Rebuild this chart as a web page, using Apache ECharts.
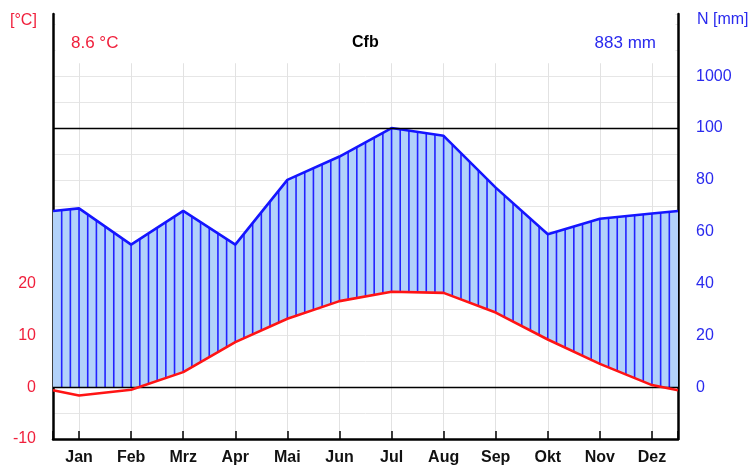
<!DOCTYPE html>
<html><head><meta charset="utf-8">
<script src="https://cdn.jsdelivr.net/npm/echarts@6/dist/echarts.min.js"></script>
<style>html,body{margin:0;padding:0;background:#fff}#c{width:753px;height:469px}</style>
</head><body><div id="c"></div>
<script>
const months = ['Jan','Feb','Mrz','Apr','Mai','Jun','Jul','Aug','Sep','Okt','Nov','Dez'];
const temperature = [-1.6,-0.5,2.9,8.7,13.2,16.6,18.4,18.2,14.4,9.2,4.5,0.4];
const precipitation = [69,55,68,55,80,89,100,97,77,59,65,67];
const tempTicks = [-10,0,10,20];
const precipTicks = [0,20,40,60,80,100,1000];
const meanTempLabel = '8.6 °C';
const totalPrecipLabel = '883 mm';
const climateClass = 'Cfb';

const FONT = 'Liberation Sans, Arial, sans-serif';
const RED = '#f0203c';
const BLUE = '#2a2aee';

// Walter-Lieth scale: 20 mm = 10 °C; above 100 mm compressed 1:10
function mmToAxis(mm){ return mm <= 100 ? mm/2 : 50 + (mm-100)/90; }
function axisToMm(v){ return v <= 50 ? v*2 : 100 + (v-50)*90; }

// positions: month centres 0..11, chart edges at -0.5 and 11.5 (Dec/Jan wrap)
const xs = [-0.5].concat(months.map((m,i)=>i)).concat([11.5]);
const tEdge = (temperature[0]+temperature[11])/2;
const pEdge = (precipitation[0]+precipitation[11])/2;
const tPts = [tEdge].concat(temperature).concat([tEdge]);
const pPts = [pEdge].concat(precipitation).concat([pEdge]).map(mmToAxis);
const segData = xs.slice(0,-1).map((x,i)=>[x, pPts[i], tPts[i]]);

function fillItem(params, api){
  const i = params.dataIndex;
  const x0=xs[i], x1=xs[i+1], p0=pPts[i], p1=pPts[i+1], t0=tPts[i], t1=tPts[i+1];
  const bottom = [[x0, Math.max(t0,0)]];
  if ((t0<0) !== (t1<0)) { const xc = x0 + (0-t0)/(t1-t0)*(x1-x0); bottom.push([xc,0]); }
  bottom.push([x1, Math.max(t1,0)]);
  const pts = [[x0,p0],[x1,p1]].concat(bottom.reverse()).map(p=>api.coord(p));
  return {type:'polygon', shape:{points:pts}, style:{fill:'#b2d2fa', stroke:'#b2d2fa', lineWidth:0.8}};
}
function hatchItem(params, api){
  const i = params.dataIndex;
  const x0=xs[i], x1=xs[i+1], p0=pPts[i], p1=pPts[i+1], t0=tPts[i], t1=tPts[i+1];
  const k0 = Math.round((x0+0.5)*6), k1 = Math.round((x1+0.5)*6);
  const children = [];
  for (let k=k0; k<k1; k++){
    if (k===0) continue;
    const x = -0.5 + k/6;
    const f = (x-x0)/(x1-x0);
    const p = p0 + f*(p1-p0);
    const t = Math.max(0, t0 + f*(t1-t0));
    const a = api.coord([x,p]), b = api.coord([x,t]);
    children.push({type:'line', shape:{x1:a[0],y1:a[1],x2:b[0],y2:b[1]}, style:{stroke:'#2323ff', lineWidth:1.6}});
  }
  return {type:'group', children};
}

const chart = echarts.init(document.getElementById('c'));
chart.setOption({
  animation:false,
  backgroundColor:'#fff',
  grid:{left:53, right:75, top:14, bottom:30, containLabel:false},
  xAxis:{
    type:'value', min:-0.5, max:11.5, splitNumber:12, minInterval:1, maxInterval:1,
    axisLine:{show:true, onZero:false, lineStyle:{color:'#000', width:2.5}},
    axisTick:{show:true, inside:true, length:8, lineStyle:{color:'#000', width:1.5}},
    axisLabel:{margin:11, color:'#111', fontFamily:FONT, fontWeight:'bold', fontSize:16,
      formatter:v=> (Number.isInteger(v) && v>=0 && v<12) ? months[v] : ''},
    splitLine:{show:true, lineStyle:{color:'#e2e2e2', width:1}}
  },
  yAxis:[{
    type:'value', min:-10, max:72, interval:5, position:'left',
    axisLine:{show:true, onZero:false, lineStyle:{color:'#000', width:2.5}},
    axisTick:{show:false},
    axisLabel:{margin:17, color:RED, fontFamily:FONT, fontSize:16,
      formatter:v=> tempTicks.indexOf(v)>=0 ? String(v) : ''},
    splitLine:{show:true, lineStyle:{color:'#e6e6e6', width:1}}
  },{
    type:'value', min:-10, max:72, interval:10, position:'right',
    axisLine:{show:true, onZero:false, lineStyle:{color:'#000', width:2.5}},
    axisTick:{show:false},
    axisLabel:{margin:18, color:BLUE, fontFamily:FONT, fontSize:16,
      formatter:v=>{ if (v<0) return ''; const mm=Math.round(axisToMm(v)); return precipTicks.indexOf(mm)>=0 ? String(mm) : ''; }},
    splitLine:{show:false}
  }],
  series:[
    {type:'custom', renderItem:fillItem, data:segData, encode:{x:0,y:1}, z:2, silent:true, clip:true},
    {type:'custom', renderItem:hatchItem, data:segData, encode:{x:0,y:1}, z:3, silent:true, clip:true},
    {type:'line', data:xs.map((x,i)=>[x,pPts[i]]), symbol:'none', z:4,
      lineStyle:{color:'#1515ff', width:2.6}, silent:true,
      markArea:{silent:true, itemStyle:{color:'#ffffff', opacity:1}, label:{show:false},
        data:[[{xAxis:-0.45, yAxis:62.5},{xAxis:11.45, yAxis:72}]]}},
    {type:'line', data:xs.map((x,i)=>[x,tPts[i]]), symbol:'none', z:5,
      lineStyle:{color:'#ff1414', width:2.6}, silent:true,
      markLine:{silent:true, symbol:'none', label:{show:false},
        lineStyle:{color:'#000', width:1.4, type:'solid'},
        data:[{yAxis:0},{yAxis:50}]}}
  ],
  graphic:[
    {type:'text', z:100, left:10, top:13, style:{text:'[°C]', fill:RED, font:'16px '+FONT}},
    {type:'text', z:100, left:697, top:12, style:{text:'N [mm]', fill:BLUE, font:'16px '+FONT}},
    {type:'text', z:100, left:71, top:35, style:{text:meanTempLabel, fill:RED, font:'17px '+FONT}},
    {type:'text', z:100, left:352, top:35, style:{text:climateClass, fill:'#000', font:'bold 16px '+FONT}},
    {type:'text', z:100, right:97, top:35, style:{text:totalPrecipLabel, fill:BLUE, font:'17px '+FONT}}
  ]
});
</script></body></html>
